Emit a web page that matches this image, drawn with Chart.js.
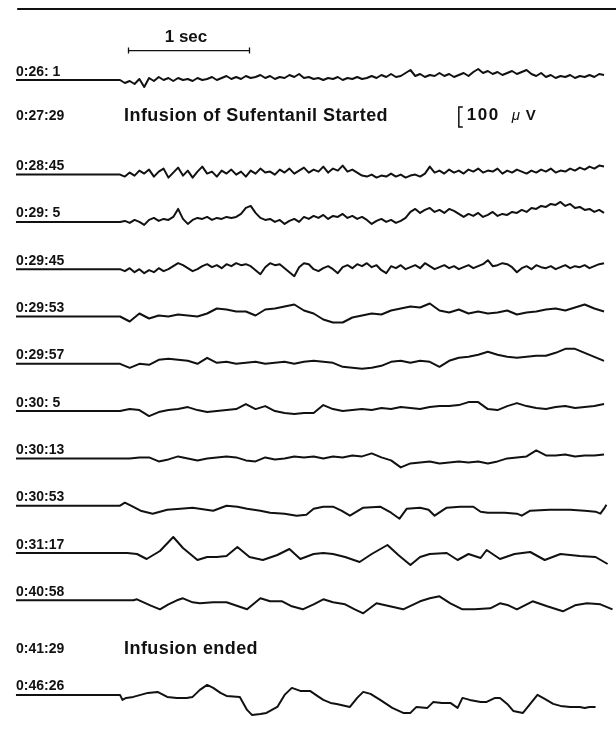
<!DOCTYPE html>
<html>
<head>
<meta charset="utf-8">
<script src="https://cdn.jsdelivr.net/npm/chart.js@4.4.1/dist/chart.umd.min.js"></script>
<style>
  html, body { margin: 0; padding: 0; background: #fff; }
  #wrap { width: 616px; height: 733px; }
</style>
</head>
<body>
<div id="wrap"><canvas id="eeg" width="616" height="733"></canvas></div>
<script>
// --- EEG strips, values in microvolts (up = positive) ---
const rowLabels = ['0:26: 1', '0:27:29', '0:28:45', '0:29: 5', '0:29:45', '0:29:53', '0:29:57',
                   '0:30: 5', '0:30:13', '0:30:53', '0:31:17', '0:40:58', '0:41:29', '0:46:26'];
const noteRows = [1, 12];
const noteTexts = ['Infusion of Sufentanil Started', 'Infusion ended'];

// regular samples, 0.04 s apart
const eeg_0026 = [0,-15,-5,-20,5,-35,10,-5,15,0,10,-5,10,0,5,-5,10,0,5,15,0,10,20,5,15,5,20,10,15,25,
  10,20,5,15,10,25,15,30,10,15,5,10,0,10,5,15,0,10,5,15,5,10,20,10,25,15,30,15,20,35,50,20,30,15,25,
  20,35,20,30,15,25,35,20,40,55,35,45,30,40,25,35,45,30,40,50,30,20,35,15,25,10,20,15,25,10,20,15,25,15,30,25];
const eeg_2845 = [0,-10,10,-5,20,5,25,-10,15,30,-15,10,35,-5,20,-15,15,40,5,15,-10,20,5,25,0,15,-10,20,5,30,
  10,15,0,25,10,30,5,20,35,10,25,15,40,10,30,20,45,15,25,10,-5,-10,0,-15,-5,-10,5,-10,0,-15,-5,0,-10,5,40,
  10,20,5,25,10,20,5,25,15,30,10,20,15,30,5,20,10,25,15,5,20,10,25,15,30,10,20,15,30,20,35,25,40,30,45,40];
const eeg_2905 = [0,5,-5,10,0,-15,10,20,5,15,10,25,65,15,-10,10,20,15,25,10,20,15,25,20,25,40,70,80,45,20,
  10,15,0,10,-10,5,15,0,25,15,30,20,35,15,30,25,40,20,30,15,25,10,-10,5,15,0,10,-5,5,20,50,65,45,60,70,
  50,60,45,65,55,40,25,40,30,45,25,35,50,30,40,35,50,45,60,50,70,65,80,75,90,85,100,80,90,70,75,60,65,50,60,45];
const eeg_2945 = [0,-10,5,-15,0,-20,-5,-15,5,-10,0,15,30,20,5,-10,0,15,25,10,20,5,25,15,30,20,25,15,-5,-25,
  10,30,20,25,5,-15,-35,10,30,25,0,-10,5,15,0,-20,10,20,5,25,15,30,10,20,-5,-20,15,5,20,0,10,20,5,30,15,
  0,10,20,5,15,0,10,20,5,15,25,45,15,20,30,25,10,-15,5,15,0,20,10,5,15,0,10,20,5,15,10,20,5,15,25,30];

// regular samples, 0.08 s apart
const eeg_2953 = [0,-25,15,-10,5,0,10,5,0,15,40,35,25,25,5,35,40,50,60,30,15,-15,-30,-30,-5,5,15,10,30,40,
  50,45,65,30,20,35,15,25,15,20,30,10,20,25,35,40,30,45,60,40,25];
const eeg_2957 = [0,-20,0,-5,20,25,20,15,0,30,5,10,0,5,10,0,5,10,0,10,15,10,5,-15,-20,-25,-20,-10,10,15,
  5,15,10,-15,15,30,35,45,60,45,35,30,35,40,40,55,75,75,55,35,15];
const eeg_3005 = [0,10,5,-25,-5,5,10,20,5,-5,0,5,10,35,10,25,0,-10,-15,-10,-10,30,10,0,5,10,5,15,10,20,
  15,10,20,25,25,30,45,45,10,5,25,40,25,15,10,20,25,15,20,25,35];
const eeg_3013 = [0,0,5,5,-15,-5,10,0,-10,0,5,10,5,-10,-15,5,-5,0,10,5,10,0,10,5,15,10,25,5,-10,-45,
  -25,-20,-15,-25,-20,-15,-20,-15,-25,-15,0,5,10,40,15,15,20,10,15,15,20];

// [seconds, microvolts] turning points
const eeg_3053 = [[0,0],[0.04,15],[0.09,0],[0.17,-25],[0.27,-40],[0.39,-20],[0.5,-15],[0.6,-10],[0.77,-25],
  [0.88,0],[0.97,-5],[1.05,-15],[1.16,-25],[1.24,-35],[1.36,-40],[1.46,-50],[1.54,-45],[1.6,-15],[1.68,-5],
  [1.76,-5],[1.83,-25],[1.9,-50],[2.01,-10],[2.15,-5],[2.24,-35],[2.31,-65],[2.37,-15],[2.48,-10],[2.55,-20],
  [2.6,-50],[2.7,-10],[2.81,-5],[2.92,-5],[2.98,-30],[3.04,-35],[3.18,-35],[3.28,-40],[3.32,-50],[3.39,-25],
  [3.55,-20],[3.72,-20],[3.84,-25],[3.93,-30],[3.97,-40],[4.0,-15],[4.02,5]];
const eeg_3117 = [[0,0],[0.06,0],[0.14,-5],[0.22,-30],[0.33,10],[0.44,80],[0.52,25],[0.64,-35],[0.72,-20],
  [0.8,-20],[0.88,-15],[0.97,30],[1.07,-20],[1.18,-35],[1.3,-10],[1.4,20],[1.49,-30],[1.6,-5],[1.68,0],
  [1.76,-5],[1.86,-20],[1.98,-45],[2.08,-5],[2.21,40],[2.3,-10],[2.4,-60],[2.48,-20],[2.56,-5],[2.7,0],
  [2.79,-35],[2.88,-5],[2.98,-25],[3.03,15],[3.14,-30],[3.26,-5],[3.39,5],[3.51,-35],[3.64,-5],[3.72,-10],
  [3.8,-15],[3.93,-20],[4.03,-55]];
const eeg_4058 = [[0,0],[0.11,0],[0.14,5],[0.25,-25],[0.33,-45],[0.4,-20],[0.47,0],[0.52,10],[0.6,-10],
  [0.66,-15],[0.77,-10],[0.88,-10],[1.05,-45],[1.16,10],[1.24,-5],[1.34,-5],[1.42,-30],[1.51,-45],[1.6,-20],
  [1.68,5],[1.76,-10],[1.86,-20],[1.94,-45],[2.01,-65],[2.12,-15],[2.23,-30],[2.34,-45],[2.48,-5],[2.56,10],
  [2.64,20],[2.73,-15],[2.83,-45],[2.93,-45],[3.06,-40],[3.14,-15],[3.21,-25],[3.28,-45],[3.41,-5],
  [3.53,-30],[3.66,-55],[3.76,-25],[3.86,-15],[3.97,-20],[4.07,-45]];
const eeg_4626 = [[0,0],[0.02,-25],[0.05,-15],[0.11,-10],[0.17,0],[0.23,10],[0.31,15],[0.39,-10],[0.47,-15],
  [0.55,-15],[0.6,-10],[0.66,25],[0.72,50],[0.77,35],[0.83,10],[0.88,-5],[0.99,-10],[1.05,-75],[1.09,-100],
  [1.16,-95],[1.21,-90],[1.3,-60],[1.36,0],[1.42,35],[1.49,20],[1.57,20],[1.63,-5],[1.68,-25],[1.74,-40],
  [1.79,-45],[1.9,-60],[1.96,-15],[2.01,15],[2.07,5],[2.15,-25],[2.25,-65],[2.34,-90],[2.4,-90],[2.45,-60],
  [2.54,-65],[2.59,-35],[2.66,-40],[2.73,-40],[2.79,-65],[2.83,-15],[2.89,-25],[2.98,-35],[3.03,-35],
  [3.1,-15],[3.14,-15],[3.2,-45],[3.25,-80],[3.33,-90],[3.39,-45],[3.45,0],[3.51,-20],[3.58,-45],[3.64,-55],
  [3.72,-60],[3.8,-60],[3.84,-65],[3.88,-60],[3.93,-60]];

const traceRows = [0, 2, 3, 4, 5, 6, 7, 8, 9, 10, 11, 13];
const traces = [eeg_0026, eeg_2845, eeg_2905, eeg_2945, eeg_2953, eeg_2957, eeg_3005, eeg_3013,
                eeg_3053, eeg_3117, eeg_4058, eeg_4626];
const traceDt = [0.04, 0.04, 0.04, 0.04, 0.08, 0.08, 0.08, 0.08, null, null, null, null];

// calibration marks
const CAL_SEC = 1;
const CAL_UV = 100;

// --- page geometry ---
const ROW_GAP_UV = 236.5;
const LEAD_START_S = -0.86;
const X_MIN = -0.992, X_MAX = 4.099;
const Y_MIN = -3265, Y_MAX = 400;
const noteShift = [-7, 5];
const FONT = '"Liberation Sans", Arial, sans-serif';

function toPoints(samples, dt, row) {
  const off = -row * ROW_GAP_UV;
  const pts = [{ x: LEAD_START_S, y: off }];
  samples.forEach((s, i) => {
    if (dt === null) pts.push({ x: s[0], y: off + s[1] });
    else pts.push({ x: i * dt, y: off + s });
  });
  return pts;
}

const datasets = traces.map((tr, i) => ({
  data: toPoints(tr, traceDt[i], traceRows[i]),
  borderColor: '#111',
  borderWidth: 2,
  borderJoinStyle: 'round',
  pointRadius: 0,
  tension: 0,
  fill: false
}));

function fitText(ctx, text, x, y, font, width) {
  ctx.font = font;
  ctx.letterSpacing = '0px';
  if (width) {
    const w = ctx.measureText(text).width;
    ctx.letterSpacing = ((width - w) / text.length) + 'px';
  }
  ctx.fillText(text, x, y);
  ctx.letterSpacing = '0px';
}

const paperPlugin = {
  id: 'paper',
  afterDatasetsDraw(chart) {
    const { ctx, scales: { x, y } } = chart;
    const base = row => y.getPixelForValue(-row * ROW_GAP_UV);
    ctx.save();
    ctx.fillStyle = '#111';
    ctx.strokeStyle = '#111';
    ctx.textBaseline = 'alphabetic';

    // rule across the top
    ctx.lineWidth = 2;
    ctx.beginPath();
    ctx.moveTo(x.getPixelForValue(-0.85), y.getPixelForValue(355));
    ctx.lineTo(chart.width, y.getPixelForValue(355));
    ctx.stroke();

    // 1 sec bar
    const bx0 = x.getPixelForValue(0.07), bx1 = x.getPixelForValue(0.07 + CAL_SEC);
    const by = y.getPixelForValue(147);
    ctx.lineWidth = 1.3;
    ctx.beginPath();
    ctx.moveTo(bx0, by); ctx.lineTo(bx1, by);
    ctx.moveTo(bx0, by - 3); ctx.lineTo(bx0, by + 3);
    ctx.moveTo(bx1, by - 3); ctx.lineTo(bx1, by + 3);
    ctx.stroke();
    ctx.textAlign = 'center';
    fitText(ctx, '1 sec', (bx0 + bx1) / 2 - 3, by - 9, 'bold 17px ' + FONT);

    // 100 uV bracket
    const kx = x.getPixelForValue(2.8);
    const ky0 = y.getPixelForValue(-135), ky1 = y.getPixelForValue(-135 - CAL_UV);
    ctx.lineWidth = 1.5;
    ctx.beginPath();
    ctx.moveTo(kx + 4, ky0); ctx.lineTo(kx, ky0); ctx.lineTo(kx, ky1); ctx.lineTo(kx + 4, ky1);
    ctx.stroke();
    ctx.textAlign = 'left';
    fitText(ctx, '100', kx + 8, ky0 + 13, 'bold 17px ' + FONT, 33);
    ctx.font = 'italic 15px ' + FONT;
    ctx.fillText('\u03bc', kx + 53, ky0 + 13);
    ctx.font = 'bold 15px ' + FONT;
    ctx.fillText('V', kx + 67, ky0 + 13);

    // time labels
    rowLabels.forEach((txt, row) => {
      const k = noteRows.indexOf(row);
      const yy = k >= 0 ? base(row) + noteShift[k] : base(row) - 4.5;
      fitText(ctx, txt, 16, yy, 'bold 14px ' + FONT);
      if (k >= 0) {
        fitText(ctx, noteTexts[k], x.getPixelForValue(0) + 4, yy + 1,
          'bold 18px ' + FONT, k === 0 ? 264 : 134);
      }
    });
    ctx.restore();
  }
};

new Chart(document.getElementById('eeg'), {
  type: 'line',
  data: { datasets },
  options: {
    responsive: false,
    devicePixelRatio: 1,
    animation: false,
    layout: { padding: 0 },
    scales: {
      x: { type: 'linear', min: X_MIN, max: X_MAX, display: false },
      y: { type: 'linear', min: Y_MIN, max: Y_MAX, display: false }
    },
    plugins: { legend: { display: false }, tooltip: { enabled: false } }
  },
  plugins: [paperPlugin]
});
</script>
</body>
</html>
